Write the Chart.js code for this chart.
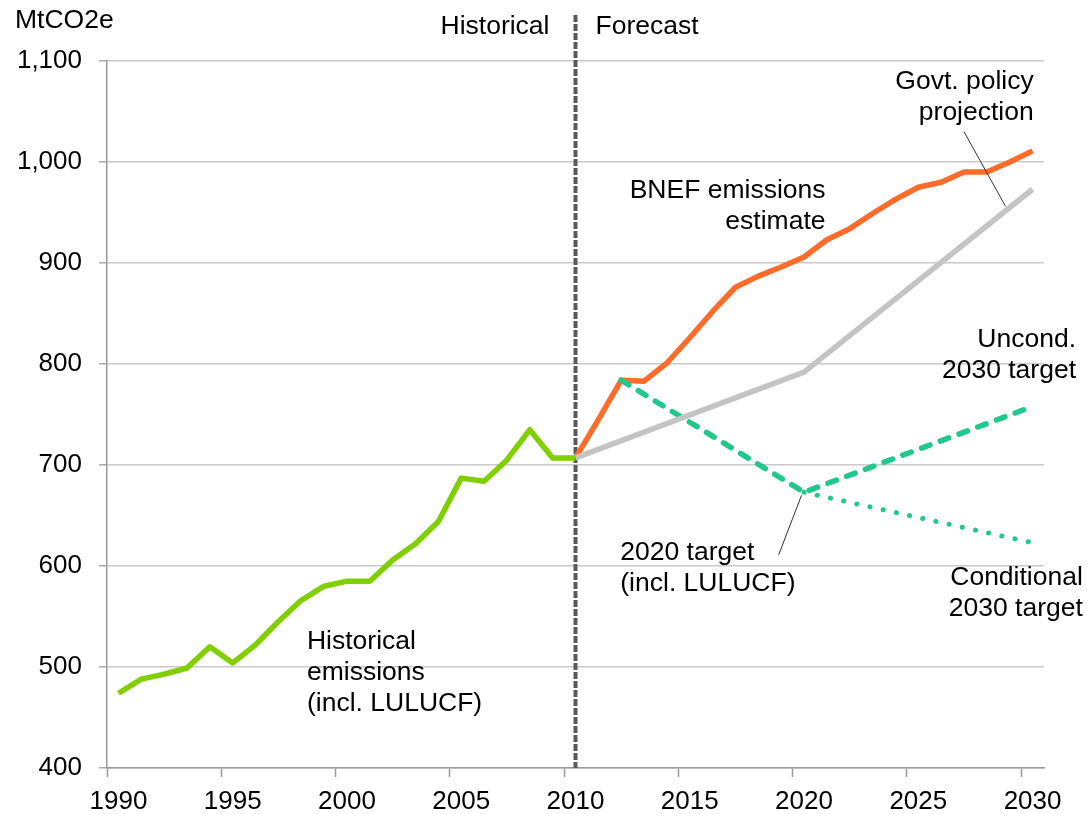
<!DOCTYPE html>
<html>
<head>
<meta charset="utf-8">
<script src="https://cdn.jsdelivr.net/npm/chart.js@4.4.1/dist/chart.umd.min.js"></script>
<style>
  html, body { margin: 0; padding: 0; background: #fff; }
  #wrap { width: 1087px; height: 814px; }
</style>
</head>
<body>
<div id="wrap"><canvas id="emissionsChart" width="1087" height="814"></canvas></div>
<script>
// years on the category axis
var years = [];
for (var y = 1990; y <= 2030; y++) years.push(String(y));

// MtCO2e
var histYears = ['1990','1991','1992','1993','1994','1995','1996','1997','1998','1999','2000',
                 '2001','2002','2003','2004','2005','2006','2007','2008','2009','2010'];
var histValues = [474, 488, 493, 499, 520, 504, 522, 545, 566, 580, 585,
                  585, 606, 622, 644, 687, 684, 705, 735, 707, 707];

var bnefYears = ['2010','2011','2012','2013','2014','2015','2016','2017','2018','2019','2020',
                 '2021','2022','2023','2024','2025','2026','2027','2028','2029','2030'];
var bnefValues = [707, 745, 784, 783, 801, 826, 852, 876, 887, 896, 906,
                  923, 934, 949, 963, 975, 980, 990, 990, 1000, 1011];

var govtYears = ['2010', '2020', '2030'];
var govtValues = [707, 792, 973];

var uncondYears = ['2012', '2020', '2030'];
var uncondValues = [784, 673, 758];

var condYears = ['2020', '2030'];
var condValues = [673, 623];

var yTicks = [400, 500, 600, 700, 800, 900, 1000, 1100];

var FONT = '"Liberation Sans", Arial, sans-serif';

function pts(xs, vs) {
  return xs.map(function (x, i) { return { x: x, y: vs[i] }; });
}

// dashed divider between historical and forecast, plus text labels
var overlay = {
  id: 'overlay',
  beforeDatasetsDraw: function (chart) {
    var ctx = chart.ctx, xs = chart.scales.x, area = chart.chartArea;
    var dx = xs.getPixelForValue(years.indexOf('2010'));
    ctx.save();
    ctx.strokeStyle = '#5a5a5a';
    ctx.lineWidth = 4;
    ctx.setLineDash([7, 2]);
    ctx.beginPath();
    ctx.moveTo(dx, 15);
    ctx.lineTo(dx, area.bottom);
    ctx.stroke();
    ctx.restore();
  },
  afterDraw: function (chart) {
    var ctx = chart.ctx, xs = chart.scales.x, ys = chart.scales.y;
    var dx = xs.getPixelForValue(years.indexOf('2010'));
    function X(i) { return xs.getPixelForValue(i); }
    function Y(v) { return ys.getPixelForValue(v); }
    function text(lines, xi, v, align) {
      ctx.textAlign = align;
      lines.forEach(function (s, k) { ctx.fillText(s, X(xi), Y(v) + k * 31); });
    }
    ctx.save();
    ctx.fillStyle = '#000';
    ctx.font = '26.5px ' + FONT;
    ctx.textBaseline = 'middle';

    ctx.textAlign = 'left';
    ctx.fillText('MtCO2e', 15, 21);
    ctx.textAlign = 'right';
    ctx.fillText('Historical', dx - 26, 27);
    ctx.textAlign = 'left';
    ctx.fillText('Forecast', dx + 20, 27);

    text(['Historical', 'emissions', '(incl. LULUCF)'], 8.25, 525, 'left');
    text(['BNEF emissions', 'estimate'], 30.94, 972, 'right');
    text(['Govt. policy', 'projection'], 40.05, 1080, 'right');
    text(['Uncond.', '2030 target'], 41.9, 824, 'right');
    text(['2020 target', '(incl. LULUCF)'], 21.96, 613, 'left');
    text(['Conditional', '2030 target'], 42.2, 588, 'right');

    // leader lines
    ctx.strokeStyle = '#333';
    ctx.lineWidth = 1;
    ctx.beginPath();
    ctx.moveTo(X(37), Y(1030)); ctx.lineTo(X(38.82), Y(956));
    ctx.moveTo(X(28.89), Y(611)); ctx.lineTo(X(29.89), Y(670));
    ctx.stroke();
    ctx.restore();
  }
};

var ctx = document.getElementById('emissionsChart').getContext('2d');
var chart = new Chart(ctx, {
  type: 'line',
  data: {
    labels: years,
    datasets: [
      { label: 'Historical emissions', data: pts(histYears, histValues),
        borderColor: '#80d000', borderWidth: 5.5 },
      { label: 'Govt. policy projection', data: pts(govtYears, govtValues),
        borderColor: '#c4c4c4', borderWidth: 5.5 },
      { label: 'Conditional 2030 target', data: pts(condYears, condValues),
        borderColor: '#20c98a', borderWidth: 5, borderDash: [0.1, 13.4], borderCapStyle: 'round' },
      { label: 'Uncond. 2030 target', data: pts(uncondYears, uncondValues),
        borderColor: '#20c98a', borderWidth: 5.5, borderDash: [9, 11], borderCapStyle: 'round' },
      { label: 'BNEF emissions estimate', data: pts(bnefYears, bnefValues),
        borderColor: '#ff6b28', borderWidth: 5.5 }
    ]
  },
  options: {
    responsive: false,
    animation: false,
    layout: { padding: { top: 61, right: 43, left: 0, bottom: 0 } },
    elements: {
      point: { radius: 0, hoverRadius: 0 },
      line: { tension: 0, borderJoinStyle: 'round', fill: false }
    },
    plugins: { legend: { display: false }, tooltip: { enabled: false } },
    scales: {
      x: {
        type: 'category',
        offset: true,
        afterFit: function (s) { s.height = 46; s.paddingLeft = 0; s.paddingRight = 0; },
        border: { color: '#999', width: 1.5 },
        grid: {
          offset: true,
          drawOnChartArea: false,
          drawTicks: true,
          tickLength: 9,
          tickWidth: 1.5,
          tickColor: function (c) { return c.index % 5 === 0 ? '#999' : 'rgba(0,0,0,0)'; }
        },
        ticks: {
          autoSkip: false,
          maxRotation: 0,
          padding: 9,
          color: '#000',
          font: { family: FONT, size: 26 },
          callback: function (v, i) { return i % 5 === 0 ? years[i] : ''; }
        }
      },
      y: {
        min: yTicks[0],
        max: yTicks[yTicks.length - 1],
        afterFit: function (s) { s.width = 107; s.paddingTop = 0; s.paddingBottom = 0; },
        afterBuildTicks: function (s) { s.ticks = yTicks.map(function (v) { return { value: v }; }); },
        border: { color: '#999', width: 1.5 },
        grid: { color: '#cacaca', lineWidth: 1.5, tickLength: 8, tickColor: '#aaa' },
        ticks: {
          padding: 17,
          color: '#000',
          font: { family: FONT, size: 26 },
          callback: function (v) { return v.toLocaleString('en-US'); }
        }
      }
    }
  },
  plugins: [overlay]
});
</script>
</body>
</html>
